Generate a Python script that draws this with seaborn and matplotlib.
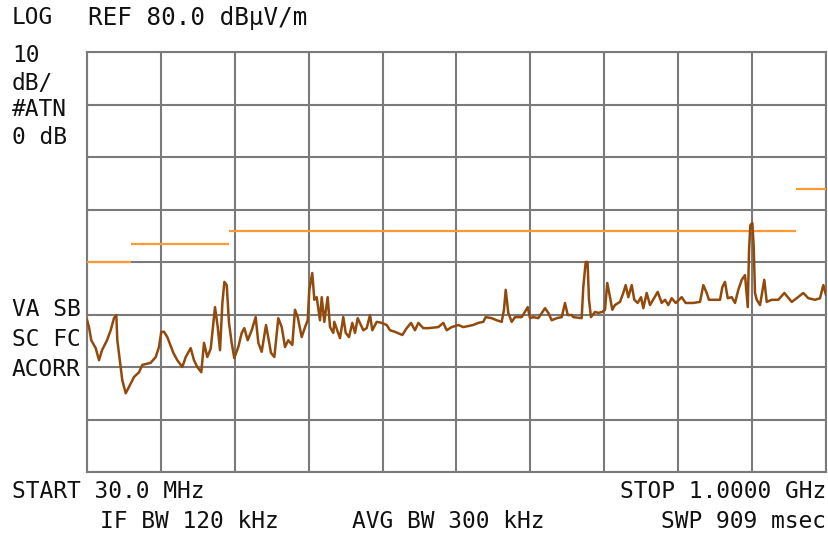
import numpy as np
import matplotlib
matplotlib.use("Agg")
import matplotlib.pyplot as plt
import seaborn as sns

sns.set_theme(style="white")
plt.rcParams['font.family'] = ['DejaVu Sans Mono', 'DejaVu Sans']

TRACE = '#924a0c'
LIMIT = '#ff9a33'
GRID = '#7a7a7a'

freq_mhz = [30.0, 32.6, 35.6, 41.4, 45.8, 49.7, 56.3, 61.1, 65.4, 68.5, 69.8, 74.2,
            76.3, 80.8, 85.1, 91.7, 98.3, 102.6, 113.6, 120.2, 124.5, 127.5, 131.1,
            135.4, 143.3, 148.5, 155.1, 159.6, 166.1, 170.4, 174.8, 180.0, 183.6,
            187.9, 192.4, 198.0, 201.6, 204.6, 207.7, 210.3, 213.4, 216.4, 219.9,
            223.3, 228.6, 233.1, 236.5, 240.9, 246.2, 251.4, 254.9, 259.3, 265.0,
            271.5, 275.9, 281.1, 285.6, 289.9, 294.2, 299.5, 303.0, 306.6, 311.8,
            316.2, 319.7, 321.8, 325.7, 328.4, 331.5, 335.8, 338.1, 341.5, 345.9,
            349.0, 353.3, 354.6, 359.1, 362.1, 366.4, 369.6, 373.9, 378.2, 381.8,
            385.3, 392.7, 397.1, 401.5, 404.5, 410.3, 416.8, 423.4, 427.7, 434.3,
            443.9, 449.6, 455.3, 460.5, 464.9, 471.4, 478.0, 491.1, 497.7, 502.1,
            508.7, 517.4, 523.9, 537.0, 543.6, 550.2, 553.3, 561.2, 567.8, 574.3,
            577.3, 579.6, 583.0, 587.5, 591.8, 600.6, 608.5, 611.5, 615.8, 622.4,
            631.2, 635.5, 640.0, 646.5, 653.1, 657.4, 661.0, 666.2, 668.3, 679.3,
            681.4, 684.6, 687.0, 688.9, 691.5, 696.8, 701.1, 706.4, 709.9, 712.9,
            716.5, 719.5, 723.0, 729.6, 733.9, 737.1, 740.5, 745.0, 748.4, 752.8,
            757.2, 760.2, 764.6, 769.0, 779.1, 784.3, 788.7, 793.0, 797.5, 802.7,
            810.6, 815.8, 825.8, 834.6, 839.0, 843.4, 846.4, 860.9, 863.9, 867.4,
            871.0, 876.2, 880.6, 884.9, 889.4, 893.7, 897.3, 899.0, 900.7, 903.3,
            905.1, 906.8, 909.1, 913.4, 919.0, 922.2, 928.7, 937.4, 945.3, 955.0,
            961.5, 970.2, 976.8, 985.6, 992.1, 996.5, 1000.0]
level_dbuv = [29.0, 27.6, 25.1, 23.6, 21.3, 23.2, 25.1, 27.0, 29.3, 29.9, 25.1, 20.0,
              17.5, 15.0, 16.2, 18.1, 19.0, 20.4, 20.8, 21.9, 23.8, 26.7, 26.7,
              25.7, 22.7, 21.3, 20.0, 21.9, 23.6, 21.3, 20.0, 19.0, 24.6,
              21.9, 23.5, 31.4, 27.6, 23.2, 32.2, 36.2, 35.6, 28.4, 24.6,
              21.7, 23.8, 26.5, 27.4, 25.1, 27.0, 29.5, 24.6, 22.9, 28.0,
              22.7, 21.9, 29.3, 27.6, 23.8, 25.1, 24.2, 30.9, 29.5, 25.7,
              27.6, 28.9, 34.7, 37.9, 32.8, 33.3, 28.9, 33.3, 28.6, 33.3,
              27.6, 26.5, 28.6, 26.7, 25.5, 29.5, 26.5, 25.7, 28.4, 26.5,
              29.3, 27.0, 27.4, 29.9, 27.0, 28.6, 28.4, 28.0, 27.0, 26.7,
              26.1, 27.4, 28.4, 27.0, 28.4, 27.4, 27.4, 27.6, 28.4, 27.0,
              27.6, 28.0, 27.6, 28.0, 28.4, 28.6, 29.5, 29.3, 28.9, 28.6,
              30.9, 34.7, 30.3, 28.6, 29.5, 29.5, 31.4, 29.3, 29.5, 29.3,
              31.2, 30.3, 28.9, 29.3, 29.5, 32.2, 29.9, 29.9, 29.5, 29.3,
              35.2, 40.0, 40.0, 32.8, 29.5, 30.5, 30.3, 30.5, 30.9, 36.0,
              33.3, 30.9, 31.8, 32.4, 34.1, 35.6, 33.3, 35.6, 32.8, 32.2,
              33.3, 31.2, 34.1, 31.8, 34.3, 32.2, 32.8, 31.8, 33.1, 32.2,
              33.3, 32.2, 32.2, 32.4, 35.6, 34.1, 32.8, 32.8, 35.2, 36.2,
              33.1, 33.3, 32.2, 34.7, 36.6, 37.5, 31.4, 42.3, 47.0, 47.4,
              42.9, 34.1, 32.8, 31.8, 36.6, 32.4, 32.8, 32.8, 34.1, 32.4,
              33.1, 34.1, 33.1, 32.8, 33.1, 35.6, 33.7]

# limit line segments
limit_start = [30, 88, 216, 960]
limit_stop = [88, 216, 960, 1000]
limit_level = [40.0, 43.5, 46.0, 54.0]

f_start, f_stop = 30, 1000
ref_level, db_per_div, n_div_y = 80, 10, 8

W, H = 829, 536
fig = plt.figure(figsize=(W / 100, H / 100), dpi=100)
ax = fig.add_axes([87 / W, 1 - 472 / H, 739 / W, 420 / H])

ax.hlines(limit_level, limit_start, limit_stop, colors=LIMIT, linewidth=1.6, zorder=3)
sns.lineplot(x=freq_mhz, y=level_dbuv, color=TRACE, linewidth=1.8,
             sort=False, estimator=None, ax=ax, zorder=4)

ax.set_xlim(f_start, f_stop)
ax.set_ylim(ref_level - n_div_y * db_per_div, ref_level)
ax.set_xticks(np.linspace(f_start, f_stop, 11))
ax.set_yticks(np.arange(0, ref_level + 1, db_per_div))
ax.set_xticklabels([])
ax.set_yticklabels([])
ax.tick_params(length=0)
ax.grid(True, color=GRID, linewidth=1.5)
ax.set_xlabel('')
ax.set_ylabel('')
for sp in ax.spines.values():
    sp.set_color(GRID)
    sp.set_linewidth(1.5)


def label(x, y, s, ha='left', size=16.5):
    fig.text(x / W, 1 - y / H, s, ha=ha, va='center', fontsize=size, color='#111111')


label(12, 18, 'LOG')
label(88, 18, 'REF 80.0 dBµV/m', size=17.5)
label(12, 56, '10')
label(12, 83, 'dB/')
label(12, 110, '#ATN')
label(12, 138, '0 dB')
label(12, 310, 'VA SB')
label(12, 340, 'SC FC')
label(12, 369, 'ACORR')
label(12, 492, 'START 30.0 MHz')
label(826, 492, 'STOP 1.0000 GHz', ha='right')
label(100, 522, 'IF BW 120 kHz')
label(352, 522, 'AVG BW 300 kHz')
label(826, 522, 'SWP 909 msec', ha='right')

fig.savefig('out.png', dpi=100)
